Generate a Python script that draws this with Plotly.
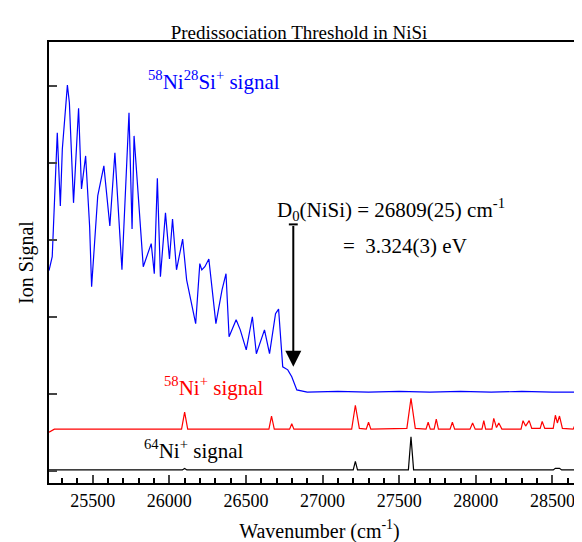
import plotly.graph_objects as go

# NiSi+ signal (blue)
nisi_x = [25215, 25236, 25269, 25289, 25302, 25335, 25348, 25375, 25408, 25427, 25454, 25480, 25493,
          25533, 25573, 25612, 25645, 25691, 25737, 25757, 25770, 25803, 25830, 25882, 25902, 25922,
          25942, 25975, 26001, 26021, 26047, 26087, 26113, 26140, 26172, 26199, 26212, 26232, 26258,
          26304, 26344, 26370, 26390, 26436, 26463, 26502, 26542, 26568, 26621, 26654, 26693, 26713,
          26740, 26773, 26799, 26832, 26900, 27100, 27300, 27500, 27700, 27900, 28100, 28300, 28500, 28750]
nisi_y = [2.60, 2.78, 4.39, 3.44, 4.18, 5.01, 4.78, 3.48, 4.71, 3.66, 4.09, 3.18, 2.39,
          3.57, 3.96, 3.18, 4.13, 2.61, 4.65, 3.14, 4.35, 3.40, 2.65, 2.95, 2.56, 3.80,
          2.52, 3.35, 2.75, 3.27, 2.61, 3.01, 2.48, 2.22, 1.91, 2.69, 2.61, 2.65, 2.75,
          1.91, 2.35, 2.56, 1.74, 1.96, 1.83, 1.57, 2.00, 1.52, 1.83, 1.52, 2.04, 2.10,
          1.35, 1.31, 1.22, 1.05, 1.02, 1.03, 1.02, 1.03, 1.02, 1.03, 1.02, 1.03, 1.02, 1.02]

# 58Ni+ signal (red)
ni58_x = [25215, 25250, 26080, 26100, 26120, 26650, 26667, 26685, 26785, 26799, 26813, 27190, 27214,
          27240, 27285, 27300, 27315, 27550, 27577, 27605, 27675, 27689, 27703, 27728, 27742, 27756,
          27832, 27847, 27862, 27962, 27979, 27996, 28040, 28052, 28064, 28105, 28117, 28135, 28150,
          28170, 28295, 28308, 28325, 28348, 28365, 28420, 28433, 28450, 28505, 28519, 28532, 28546,
          28565, 28635, 28651, 28668, 28750]
ni58_y = [0.50, 0.54, 0.54, 0.76, 0.54, 0.54, 0.71, 0.54, 0.54, 0.61, 0.54, 0.54, 0.85,
          0.55, 0.54, 0.63, 0.54, 0.55, 0.94, 0.55, 0.54, 0.63, 0.54, 0.54, 0.67, 0.54,
          0.54, 0.63, 0.54, 0.54, 0.62, 0.54, 0.54, 0.65, 0.54, 0.54, 0.68, 0.56, 0.62,
          0.54, 0.54, 0.65, 0.58, 0.65, 0.55, 0.55, 0.64, 0.55, 0.55, 0.72, 0.62, 0.71,
          0.55, 0.54, 0.61, 0.54, 0.54]

# 64Ni+ signal (black)
ni64_x = [25215, 26085, 26100, 26115, 27200, 27214, 27228, 27560, 27577, 27594, 28505, 28519, 28546, 28560, 28750]
ni64_y = [0.01, 0.01, 0.03, 0.01, 0.01, 0.12, 0.01, 0.01, 0.44, 0.01, 0.01, 0.03, 0.03, 0.01, 0.01]

tick_vals = [25500, 26000, 26500, 27000, 27500, 28000, 28500]
tick_text = [str(v) for v in tick_vals]

FONT = "Liberation Serif"

fig = go.Figure()
fig.add_trace(go.Scatter(x=ni64_x, y=ni64_y, mode="lines", line=dict(color="black", width=1.2)))
fig.add_trace(go.Scatter(x=ni58_x, y=ni58_y, mode="lines", line=dict(color="red", width=1.2)))
fig.add_trace(go.Scatter(x=nisi_x, y=nisi_y, mode="lines", line=dict(color="blue", width=1.2)))

# threshold arrow
fig.add_annotation(x=26809, y=1.35, ax=26809, ay=3.2, xref="x", yref="y", axref="x", ayref="y",
                   text="", showarrow=True, arrowhead=2, arrowsize=1.6, arrowwidth=2, arrowcolor="black")
fig.add_shape(type="line", x0=26780, x1=26838, y0=3.2, y1=3.2, line=dict(color="black", width=2))

labels = [
    (26290, 5.07, "<sup>58</sup>Ni<sup>28</sup>Si<sup>+</sup> signal", "blue"),
    (26290, 1.1, "<sup>58</sup>Ni<sup>+</sup> signal", "red"),
    (26160, 0.27, "<sup>64</sup>Ni<sup>+</sup> signal", "black"),
    (27445, 3.4, "D<sub>0</sub>(NiSi) = 26809(25) cm<sup>-1</sup>", "black"),
    (27540, 2.92, "=  3.324(3) eV", "black"),
]
for x, y, t, c in labels:
    fig.add_annotation(x=x, y=y, text=t, showarrow=False, font=dict(family=FONT, size=21, color=c))

fig.update_layout(
    width=582, height=542, showlegend=False,
    plot_bgcolor="white", paper_bgcolor="white",
    margin=dict(l=41, r=0, t=34, b=67, autoexpand=False),
    title=dict(text="Predissociation Threshold in NiSi", x=0.5, xanchor="center", y=0.967,
               font=dict(family=FONT, size=19, color="black")),
    font=dict(family=FONT, color="black"),
)
fig.update_xaxes(range=[25215, 28745], tickvals=tick_vals, ticktext=tick_text, automargin=False,
                 ticks="inside", ticklen=8, tickwidth=1.5, showline=True, linecolor="black", linewidth=2,
                 mirror=True, showgrid=False, zeroline=False, tickfont=dict(family=FONT, size=18),
                 minor=dict(dtick=100, ticks="inside", ticklen=5, tickcolor="black"),
                 title=dict(text="Wavenumber (cm<sup>-1</sup>)", font=dict(family=FONT, size=20), standoff=14))
fig.update_yaxes(range=[-0.16, 5.57], tickvals=[0, 1, 2, 3, 4, 5], showticklabels=False, automargin=False,
                 ticks="inside", ticklen=8, tickwidth=1.5, showline=True, linecolor="black", linewidth=2,
                 mirror="allticks", showgrid=False, zeroline=False,
                 title=dict(text="Ion Signal", font=dict(family=FONT, size=20), standoff=8))

fig.write_html("out.html")
